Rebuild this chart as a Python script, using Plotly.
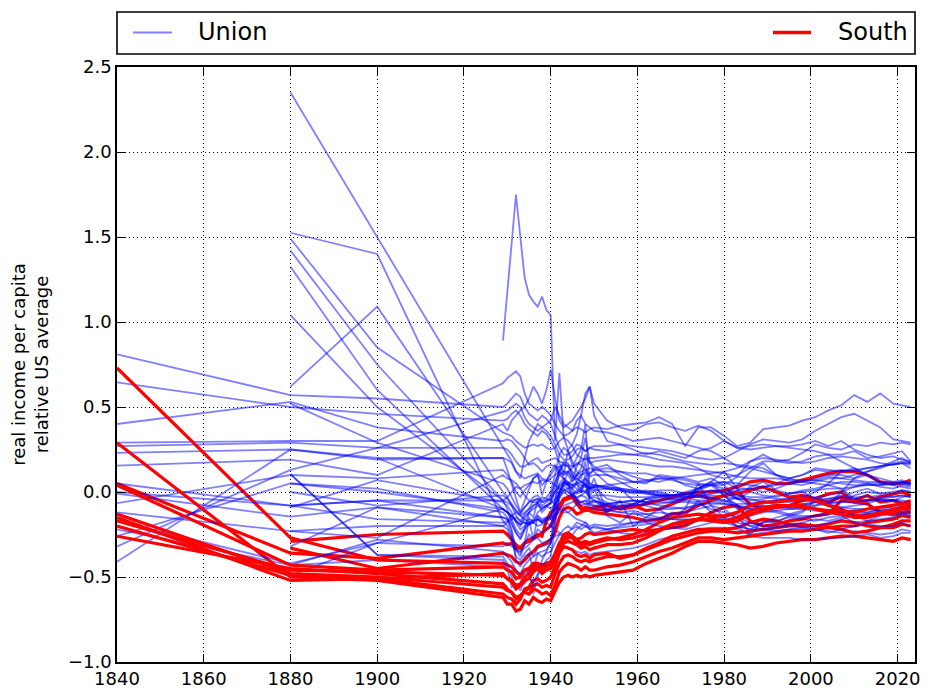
import plotly.graph_objects as go

# ---- x positions of the observations (benchmark years, then annual 1929-1950, then every 3 years) ----
YEARS = [1840, 1880, 1900] + list(range(1929, 1951)) + list(range(1953, 2020, 3)) + [2021, 2023]

X_TICKS = [1840, 1860, 1880, 1900, 1920, 1940, 1960, 1980, 2000, 2020]
Y_TICKS = [-1.0, -0.5, 0.0, 0.5, 1.0, 1.5, 2.0, 2.5]

# ---- South (red) ----
south_01 = [0.05, -0.36, -0.39,
            -0.30, -0.31, -0.30, -0.33, -0.33, -0.30, -0.28, -0.27, -0.26, -0.24, -0.22, -0.20, -0.14, -0.09, -0.05, -0.04, -0.03, -0.07, -0.10, -0.09, -0.10, -0.09,
            -0.08, -0.10, -0.09, -0.07, -0.05, -0.03, -0.01, 0.00, 0.00, 0.01, 0.03, 0.06, 0.07, 0.05, 0.05, 0.07, 0.09, 0.11, 0.12, 0.12, 0.10, 0.06, 0.05,
            0.05, 0.07]
south_02 = [None, -0.29, -0.25,
            -0.23, -0.25, -0.28, -0.31, -0.33, -0.30, -0.29, -0.27, -0.25, -0.26, -0.17, -0.12, -0.10, -0.08, -0.04, -0.03, -0.02, -0.05, -0.09, -0.11, -0.10, -0.10,
            -0.11, -0.09, -0.08, -0.11, -0.10, -0.07, -0.04, -0.02, -0.04, -0.02, -0.01, 0.01, 0.03, 0.00, -0.03, -0.02, -0.04, -0.01, 0.00, -0.06, -0.05, -0.03, -0.01,
            0.00, -0.02]
south_03 = [None, -0.33, -0.45,
            -0.36, -0.37, -0.38, -0.41, -0.42, -0.40, -0.37, -0.35, -0.32, -0.31, -0.30, -0.28, -0.24, -0.15, -0.10, -0.09, -0.10, -0.13, -0.12, -0.10, -0.11, -0.12,
            -0.13, -0.14, -0.15, -0.17, -0.16, -0.13, -0.12, -0.08, -0.05, -0.02, 0.00, -0.07, -0.10, -0.09, -0.08, -0.05, -0.04, -0.06, -0.03, -0.05, -0.02, -0.06, -0.05,
            -0.07, -0.05]
south_04 = [0.73, -0.27, -0.40,
            -0.42, -0.43, -0.44, -0.47, -0.49, -0.46, -0.45, -0.43, -0.42, -0.43, -0.42, -0.41, -0.37, -0.32, -0.28, -0.27, -0.26, -0.28, -0.27, -0.25, -0.24, -0.25,
            -0.24, -0.23, -0.22, -0.23, -0.22, -0.21, -0.20, -0.16, -0.12, -0.09, -0.08, -0.17, -0.20, -0.19, -0.17, -0.16, -0.14, -0.13, -0.05, -0.06, -0.07, -0.12, -0.13,
            -0.12, -0.12]
south_05 = [0.29, -0.50, -0.52,
            -0.62, -0.66, -0.66, -0.70, -0.69, -0.64, -0.66, -0.62, -0.64, -0.65, -0.63, -0.64, -0.58, -0.53, -0.50, -0.49, -0.50, -0.49, -0.50, -0.49, -0.50, -0.49,
            -0.48, -0.47, -0.46, -0.42, -0.39, -0.36, -0.32, -0.29, -0.29, -0.30, -0.31, -0.33, -0.32, -0.30, -0.29, -0.28, -0.28, -0.27, -0.26, -0.26, -0.27, -0.28, -0.29,
            -0.27, -0.28]
south_06 = [-0.13, -0.48, -0.50,
            -0.56, -0.58, -0.59, -0.62, -0.61, -0.58, -0.57, -0.55, -0.54, -0.56, -0.55, -0.56, -0.48, -0.42, -0.38, -0.37, -0.38, -0.40, -0.41, -0.40, -0.41, -0.40,
            -0.38, -0.38, -0.37, -0.34, -0.31, -0.28, -0.26, -0.24, -0.23, -0.23, -0.24, -0.23, -0.22, -0.21, -0.20, -0.20, -0.20, -0.19, -0.17, -0.18, -0.20, -0.21, -0.21,
            -0.19, -0.20]
south_07 = [-0.15, -0.52, -0.51,
            -0.60, -0.62, -0.63, -0.66, -0.63, -0.57, -0.56, -0.52, -0.51, -0.53, -0.52, -0.50, -0.44, -0.36, -0.32, -0.33, -0.34, -0.37, -0.38, -0.37, -0.39, -0.37,
            -0.36, -0.39, -0.37, -0.33, -0.30, -0.26, -0.24, -0.22, -0.22, -0.22, -0.21, -0.18, -0.16, -0.17, -0.19, -0.19, -0.20, -0.21, -0.22, -0.24, -0.23, -0.21, -0.19,
            -0.17, -0.17]
south_08 = [-0.26, -0.45, -0.48,
            -0.54, -0.57, -0.59, -0.63, -0.61, -0.59, -0.60, -0.57, -0.58, -0.60, -0.59, -0.61, -0.55, -0.47, -0.44, -0.42, -0.43, -0.44, -0.46, -0.44, -0.46, -0.46,
            -0.44, -0.43, -0.41, -0.38, -0.35, -0.33, -0.30, -0.27, -0.27, -0.28, -0.27, -0.26, -0.25, -0.24, -0.23, -0.23, -0.22, -0.21, -0.20, -0.20, -0.18, -0.17, -0.16,
            -0.14, -0.15]
south_09 = [-0.17, -0.46, -0.47,
            -0.49, -0.51, -0.52, -0.55, -0.54, -0.50, -0.48, -0.45, -0.44, -0.46, -0.44, -0.43, -0.37, -0.30, -0.27, -0.26, -0.27, -0.30, -0.31, -0.30, -0.31, -0.30,
            -0.28, -0.27, -0.25, -0.22, -0.18, -0.15, -0.14, -0.13, -0.14, -0.14, -0.12, -0.08, -0.06, -0.06, -0.05, -0.04, -0.05, -0.08, -0.10, -0.14, -0.14, -0.12, -0.10,
            -0.09, -0.09]
south_10 = [-0.20, -0.49, -0.51,
            -0.48, -0.51, -0.53, -0.57, -0.55, -0.52, -0.51, -0.47, -0.45, -0.48, -0.46, -0.45, -0.40, -0.34, -0.30, -0.29, -0.30, -0.31, -0.33, -0.32, -0.34, -0.33,
            -0.31, -0.31, -0.30, -0.27, -0.23, -0.19, -0.17, -0.16, -0.16, -0.17, -0.15, -0.11, -0.09, -0.08, -0.08, -0.08, -0.10, -0.12, -0.13, -0.15, -0.15, -0.13, -0.12,
            -0.10, -0.10]
south_11 = [0.04, -0.43, -0.46,
            -0.44, -0.46, -0.47, -0.51, -0.50, -0.46, -0.45, -0.42, -0.42, -0.45, -0.43, -0.42, -0.36, -0.30, -0.25, -0.24, -0.26, -0.28, -0.30, -0.29, -0.30, -0.29,
            -0.27, -0.28, -0.27, -0.25, -0.22, -0.19, -0.18, -0.16, -0.17, -0.18, -0.17, -0.13, -0.11, -0.09, -0.08, -0.09, -0.10, -0.11, -0.11, -0.12, -0.10, -0.09, -0.08,
            -0.07, -0.07]

# ---- Union (blue) ----
union_01 = [0.81, 0.57, 0.55,
            0.50, 0.52, 0.55, 0.58, 0.56, 0.50, 0.46, 0.44, 0.42, 0.45, 0.43, 0.40, 0.33, 0.26, 0.22, 0.22, 0.24, 0.28, 0.27, 0.24, 0.26, 0.25,
            0.24, 0.23, 0.22, 0.21, 0.19, 0.18, 0.17, 0.14, 0.10, 0.08, 0.10, 0.14, 0.18, 0.18, 0.17, 0.18, 0.21, 0.22, 0.22, 0.24, 0.20, 0.21, 0.23,
            0.24, 0.18]
union_02 = [0.645, 0.50, 0.46,
            0.42, 0.43, 0.46, 0.48, 0.45, 0.40, 0.37, 0.35, 0.33, 0.36, 0.34, 0.30, 0.25, 0.17, 0.12, 0.12, 0.14, 0.17, 0.16, 0.13, 0.14, 0.13,
            0.12, 0.12, 0.11, 0.11, 0.09, 0.08, 0.07, 0.05, 0.04, 0.04, 0.09, 0.18, 0.22, 0.18, 0.19, 0.23, 0.28, 0.26, 0.25, 0.28, 0.27, 0.29, 0.28,
            0.29, 0.28]
union_03 = [0.40, 0.53, 0.38,
            0.30, 0.31, 0.30, 0.27, 0.24, 0.20, 0.16, 0.17, 0.15, 0.12, 0.15, 0.16, 0.15, 0.10, 0.08, 0.05, 0.07, 0.08, 0.06, 0.04, 0.02, 0.04,
            0.03, 0.02, 0.01, 0.00, -0.01, -0.02, -0.03, -0.05, -0.05, -0.06, -0.03, 0.03, 0.06, 0.01, -0.01, 0.01, 0.02, 0.04, 0.06, 0.06, 0.05, 0.05, 0.06,
            0.05, 0.04]
union_04 = [0.29, 0.30, 0.30,
            0.64, 0.67, 0.69, 0.71, 0.68, 0.58, 0.52, 0.50, 0.48, 0.50, 0.48, 0.45, 0.40, 0.36, 0.33, 0.34, 0.36, 0.38, 0.37, 0.35, 0.37, 0.38,
            0.37, 0.39, 0.40, 0.41, 0.44, 0.40, 0.27, 0.38, 0.38, 0.33, 0.27, 0.29, 0.37, 0.38, 0.39, 0.42, 0.44, 0.48, 0.51, 0.57, 0.53, 0.58, 0.52,
            0.51, 0.50]
union_05 = [0.27, 0.29, 0.26,
            0.47, 0.48, 0.50, 0.52, 0.50, 0.44, 0.40, 0.38, 0.36, 0.38, 0.36, 0.33, 0.28, 0.22, 0.19, 0.19, 0.21, 0.25, 0.26, 0.24, 0.26, 0.27,
            0.27, 0.28, 0.27, 0.26, 0.25, 0.24, 0.22, 0.20, 0.19, 0.20, 0.24, 0.28, 0.31, 0.30, 0.29, 0.31, 0.36, 0.40, 0.44, 0.46, 0.42, 0.38, 0.31,
            0.30, 0.29]
union_06 = [0.23, 0.25, 0.19,
            0.20, 0.19, 0.17, 0.12, 0.10, 0.08, 0.09, 0.10, 0.11, 0.08, 0.07, 0.06, 0.04, 0.02, 0.01, 0.02, 0.03, 0.05, 0.06, 0.05, 0.03, 0.04,
            0.03, 0.02, 0.01, -0.01, -0.02, -0.02, -0.01, -0.01, -0.02, -0.03, -0.04, -0.05, -0.04, -0.02, -0.01, 0.00, 0.01, 0.02, 0.02, 0.03, 0.04, 0.04, 0.05,
            0.05, 0.04]
union_07 = [0.155, 0.19, 0.10,
            0.40, 0.36, 0.42, 0.45, 0.48, 0.50, 0.55, 0.62, 0.58, 0.52, 0.60, 0.72, 0.55, 0.42, 0.38, 0.40, 0.42, 0.46, 0.50, 0.55, 0.62, 0.52,
            0.42, 0.38, 0.36, 0.40, 0.41, 0.38, 0.36, 0.39, 0.36, 0.30, 0.26, 0.27, 0.28, 0.27, 0.26, 0.25, 0.24, 0.22, 0.18, 0.14, 0.10, 0.06, 0.04,
            0.03, 0.02]
union_08 = [0.05, -0.08, -0.05,
            -0.05, -0.03, 0.00, 0.03, 0.02, -0.02, -0.05, -0.06, -0.06, -0.03, -0.04, -0.05, -0.07, -0.10, -0.12, -0.12, -0.10, -0.07, -0.06, -0.07, -0.07, -0.06,
            -0.07, -0.06, -0.05, -0.06, -0.05, -0.04, -0.05, -0.06, -0.05, -0.02, 0.04, 0.12, 0.17, 0.10, 0.08, 0.10, 0.13, 0.12, 0.13, 0.12, 0.14, 0.15, 0.16,
            0.17, 0.16]
union_09 = [-0.01, -0.145, -0.09,
            -0.20, -0.18, -0.16, -0.15, -0.17, -0.18, -0.19, -0.18, -0.20, -0.19, -0.18, -0.20, -0.22, -0.24, -0.25, -0.24, -0.21, -0.18, -0.19, -0.20, -0.21, -0.21,
            -0.22, -0.21, -0.20, -0.19, -0.17, -0.15, -0.14, -0.13, -0.15, -0.15, -0.12, -0.07, -0.05, -0.08, -0.09, -0.08, -0.06, -0.04, -0.02, -0.03, -0.03, -0.02, -0.03,
            -0.02, -0.03]
union_10 = [-0.065, 0.10, 0.08,
            0.13, 0.10, 0.06, 0.00, -0.03, 0.01, 0.04, 0.08, 0.10, 0.04, 0.07, 0.10, 0.14, 0.15, 0.16, 0.15, 0.12, 0.10, 0.12, 0.13, 0.11, 0.13,
            0.14, 0.12, 0.09, 0.07, 0.08, 0.07, 0.05, 0.04, 0.04, 0.02, -0.02, -0.03, -0.03, -0.04, -0.04, -0.04, -0.06, -0.07, -0.09, -0.10, -0.10, -0.09, -0.09,
            -0.09, -0.08]
union_11 = [-0.12, -0.23, -0.27,
            0.10, 0.08, 0.07, 0.05, 0.02, 0.04, 0.05, 0.06, 0.05, 0.07, 0.06, 0.08, 0.10, 0.12, 0.08, 0.06, 0.04, 0.02, 0.01, 0.00, 0.02, 0.03,
            0.04, 0.05, 0.06, 0.06, 0.08, 0.08, 0.09, 0.10, 0.11, 0.12, 0.14, 0.18, 0.20, 0.19, 0.18, 0.17, 0.18, 0.20, 0.21, 0.20, 0.19, 0.17, 0.16,
            0.17, 0.14]
union_12 = [-0.22, -0.43, -0.40,
            -0.44, -0.46, -0.47, -0.50, -0.51, -0.48, -0.46, -0.43, -0.44, -0.45, -0.43, -0.42, -0.38, -0.35, -0.33, -0.33, -0.34, -0.35, -0.36, -0.35, -0.37, -0.36,
            -0.35, -0.34, -0.33, -0.31, -0.28, -0.26, -0.24, -0.22, -0.21, -0.21, -0.22, -0.25, -0.24, -0.23, -0.22, -0.22, -0.22, -0.23, -0.24, -0.23, -0.24, -0.25, -0.24,
            -0.22, -0.23]
union_13 = [-0.26, 0.05, 0.00,
            -0.10, -0.12, -0.14, -0.17, -0.19, -0.14, -0.12, -0.08, -0.06, -0.12, -0.09, -0.06, 0.00, 0.03, 0.05, 0.04, 0.02, -0.01, 0.00, 0.01, -0.02, 0.01,
            0.02, 0.01, -0.01, 0.00, 0.01, 0.01, -0.01, -0.02, -0.03, -0.05, -0.09, -0.10, -0.10, -0.11, -0.10, -0.09, -0.10, -0.11, -0.13, -0.14, -0.13, -0.12, -0.12,
            -0.12, -0.13]
union_14 = [-0.32, 0.13, 0.26,
            0.26, 0.25, 0.22, 0.18, 0.15, 0.15, 0.17, 0.19, 0.20, 0.17, 0.18, 0.19, 0.20, 0.18, 0.17, 0.16, 0.15, 0.16, 0.18, 0.20, 0.17, 0.18,
            0.19, 0.18, 0.17, 0.16, 0.15, 0.15, 0.14, 0.13, 0.12, 0.11, 0.09, 0.08, 0.08, 0.08, 0.07, 0.07, 0.07, 0.06, 0.05, 0.04, 0.04, 0.04, 0.05,
            0.06, 0.05]
union_15 = [-0.41, 0.25, 0.20,
            0.20, 0.13, 0.05, -0.04, -0.12, -0.05, 0.02, 0.08, 0.10, -0.02, 0.06, 0.12, 0.16, 0.12, 0.18, 0.17, 0.10, 0.06, 0.10, 0.12, 0.10, 0.14,
            0.16, 0.10, 0.06, 0.05, 0.10, 0.09, 0.08, 0.06, 0.08, 0.04, -0.04, 0.00, -0.02, -0.03, -0.01, 0.00, -0.04, -0.08, -0.12, -0.11, -0.10, -0.11, -0.10,
            -0.10, -0.11]
union_16 = [0.00, -0.08, -0.16,
            -0.18, -0.17, -0.14, -0.12, -0.14, -0.16, -0.18, -0.17, -0.16, -0.18, -0.17, -0.16, -0.14, -0.12, -0.10, -0.12, -0.14, -0.16, -0.17, -0.18, -0.20, -0.19,
            -0.20, -0.19, -0.18, -0.17, -0.16, -0.16, -0.17, -0.16, -0.17, -0.18, -0.17, -0.14, -0.12, -0.11, -0.13, -0.14, -0.14, -0.13, -0.12, -0.11, -0.12, -0.11, -0.10,
            -0.08, -0.08]
union_17 = [-0.17, -0.42, -0.30,
            -0.10, -0.12, -0.14, -0.17, -0.19, -0.18, -0.19, -0.17, -0.16, -0.17, -0.16, -0.15, -0.13, -0.10, -0.08, -0.07, -0.06, -0.05, -0.06, -0.05, -0.07, -0.08,
            -0.07, -0.08, -0.08, -0.07, -0.07, -0.06, -0.06, -0.07, -0.07, -0.07, -0.08, -0.09, -0.08, -0.09, -0.10, -0.10, -0.11, -0.12, -0.12, -0.13, -0.13, -0.13, -0.14,
            -0.13, -0.14]
union_18 = [None, -0.49, -0.30,
            -0.32, -0.30, -0.32, -0.34, -0.35, -0.33, -0.31, -0.28, -0.27, -0.30, -0.29, -0.28, -0.26, -0.25, -0.26, -0.26, -0.25, -0.22, -0.20, -0.18, -0.22, -0.20,
            -0.22, -0.24, -0.25, -0.24, -0.22, -0.21, -0.19, -0.17, -0.15, -0.16, -0.20, -0.26, -0.27, -0.27, -0.27, -0.28, -0.28, -0.27, -0.27, -0.26, -0.25, -0.27, -0.26,
            -0.24, -0.24]
union_19 = [None, 0.00, -0.08,
            -0.02, -0.04, -0.07, -0.11, -0.14, -0.12, -0.10, -0.08, -0.07, -0.09, -0.08, -0.07, -0.04, -0.01, 0.01, 0.00, -0.02, -0.03, -0.02, 0.00, -0.03, -0.02,
            -0.02, -0.03, -0.03, -0.03, -0.02, -0.02, -0.03, -0.03, -0.04, -0.05, -0.07, -0.07, -0.06, -0.06, -0.05, -0.05, -0.05, -0.06, -0.06, -0.06, -0.05, -0.05, -0.05,
            -0.05, -0.06]
union_20 = [None, -0.09, 0.07,
            -0.06, -0.08, -0.12, -0.18, -0.22, -0.20, -0.15, -0.18, -0.12, -0.10, -0.08, -0.10, -0.07, -0.03, 0.00, -0.02, -0.03, -0.04, -0.02, -0.03, -0.06, -0.05,
            -0.07, -0.06, -0.05, -0.06, -0.03, -0.02, -0.01, 0.00, 0.01, 0.00, 0.01, 0.02, 0.03, 0.04, 0.05, 0.06, 0.07, 0.09, 0.08, 0.07, 0.06, 0.06, 0.05,
            0.06, 0.05]
union_21 = [None, 0.05, 0.02,
            -0.12, -0.15, -0.22, -0.34, -0.38, -0.30, -0.16, -0.28, -0.14, -0.18, -0.15, -0.15, -0.05, 0.05, 0.08, 0.05, 0.04, 0.05, 0.02, 0.10, 0.01, 0.03,
            -0.04, -0.06, -0.07, -0.04, -0.02, -0.03, -0.04, 0.02, 0.06, -0.02, -0.10, -0.14, -0.10, -0.08, -0.09, -0.07, -0.08, -0.05, -0.03, 0.00, 0.02, -0.01, -0.01,
            0.01, 0.00]
union_22 = [None, -0.23, -0.20,
            -0.20, -0.22, -0.28, -0.38, -0.40, -0.36, -0.33, -0.38, -0.33, -0.32, -0.31, -0.30, -0.18, -0.04, 0.02, 0.00, -0.02, 0.01, 0.00, 0.05, -0.06, -0.05,
            -0.08, -0.10, -0.07, -0.04, -0.06, -0.06, -0.03, -0.02, 0.01, 0.00, -0.04, -0.04, -0.06, -0.05, -0.06, -0.05, -0.04, -0.04, -0.03, -0.04, -0.02, -0.05, -0.05,
            -0.03, -0.02]
union_23 = [None, -0.32, -0.09,
            -0.15, -0.16, -0.24, -0.40, -0.44, -0.38, -0.36, -0.46, -0.36, -0.35, -0.34, -0.30, -0.15, 0.00, 0.06, 0.04, 0.02, 0.05, 0.00, 0.08, -0.04, -0.03,
            -0.06, -0.10, -0.08, -0.04, -0.03, -0.05, -0.04, 0.01, 0.04, -0.02, -0.08, -0.12, -0.07, -0.05, -0.05, -0.04, -0.03, -0.02, 0.00, 0.03, 0.05, 0.03, 0.02,
            0.04, 0.03]
union_24 = [None, 0.105, -0.37,
            -0.40, -0.45, -0.56, -0.54, -0.58, -0.52, -0.45, -0.60, -0.50, -0.40, -0.35, -0.30, -0.05, 0.15, 0.10, 0.25, 0.15, 0.20, 0.25, 0.40, 0.02, 0.08,
            -0.12, -0.05, -0.20, -0.15, -0.10, -0.16, -0.10, 0.05, -0.08, -0.15, -0.13, -0.25, -0.17, -0.18, -0.14, -0.12, -0.05, -0.08, 0.00, 0.08, 0.10, 0.05, 0.04,
            0.06, 0.05]
union_25 = [None, 0.105, -0.37,
            -0.38, -0.42, -0.50, -0.57, -0.55, -0.54, -0.50, -0.54, -0.48, -0.45, -0.40, -0.38, -0.20, -0.02, 0.05, 0.12, 0.08, 0.10, 0.08, 0.18, 0.00, 0.02,
            -0.14, -0.18, -0.12, -0.15, -0.16, -0.12, -0.14, -0.05, -0.12, -0.15, -0.20, -0.22, -0.18, -0.15, -0.13, -0.11, -0.08, -0.07, -0.06, -0.02, 0.00, -0.01, 0.00,
            0.01, 0.00]
union_26 = [None, 1.04, 0.50,
            -0.05, -0.10, -0.18, -0.24, -0.28, -0.22, -0.12, -0.15, -0.05, -0.08, -0.06, -0.04, 0.06, 0.12, 0.10, 0.12, 0.08, 0.15, 0.20, 0.32, 0.18, 0.12,
            0.05, 0.02, -0.05, -0.06, -0.08, -0.09, -0.10, -0.07, -0.10, -0.12, -0.15, -0.18, -0.20, -0.20, -0.19, -0.21, -0.20, -0.18, -0.16, -0.14, -0.13, -0.12, -0.10,
            -0.09, -0.09]
union_27 = [None, 1.325, 0.60,
            -0.10, -0.12, -0.14, -0.17, -0.20, -0.16, -0.12, -0.10, -0.08, -0.10, -0.08, -0.06, 0.02, 0.10, 0.12, 0.10, 0.06, 0.10, 0.14, 0.22, 0.18, 0.15,
            0.10, 0.06, 0.02, 0.00, -0.02, -0.04, -0.02, 0.02, 0.06, 0.12, 0.02, -0.08, -0.06, -0.05, -0.04, -0.03, 0.00, 0.05, 0.12, 0.14, 0.10, 0.08, 0.06,
            0.07, 0.05]
union_28 = [None, 1.42, 0.75,
            -0.05, -0.06, -0.08, -0.11, -0.13, -0.09, -0.06, -0.05, -0.04, -0.06, -0.05, -0.04, 0.00, 0.04, 0.06, 0.05, 0.04, 0.06, 0.04, 0.03, 0.02, 0.03,
            0.02, 0.01, 0.00, -0.01, -0.02, -0.02, 0.00, 0.02, 0.04, 0.06, 0.05, 0.04, 0.03, 0.05, 0.08, 0.10, 0.14, 0.13, 0.12, 0.13, 0.14, 0.15, 0.16,
            0.17, 0.17]
union_29 = [None, 2.35, 1.50,
            0.26, 0.22, 0.18, 0.12, 0.08, 0.20, 0.30, 0.35, 0.40, 0.38, 0.40, 0.42, 0.50, 0.45, 0.40, 0.38, 0.36, 0.42, 0.45, 0.40, 0.38, 0.36,
            0.35, 0.33, 0.30, 0.31, 0.32, 0.30, 0.28, 0.26, 0.24, 0.20, 0.15, 0.14, 0.12, 0.10, 0.08, 0.06, 0.05, 0.04, 0.02, -0.04, -0.05, -0.04, -0.05,
            -0.06, -0.07]
union_30 = [None, 1.525, 1.40,
            -0.17, -0.20, -0.26, -0.34, -0.36, -0.30, -0.25, -0.28, -0.22, -0.24, -0.22, -0.20, -0.10, 0.00, 0.04, 0.02, -0.02, 0.00, 0.02, 0.05, -0.03, -0.05,
            -0.10, -0.12, -0.11, -0.13, -0.12, -0.13, -0.12, -0.10, -0.08, -0.10, -0.16, -0.20, -0.18, -0.17, -0.15, -0.16, -0.17, -0.15, -0.14, -0.18, -0.17, -0.14, -0.12,
            -0.10, -0.12]
union_31 = [None, 1.49, 0.85,
            0.35, 0.34, 0.33, 0.30, 0.28, 0.26, 0.27, 0.28, 0.27, 0.28, 0.26, 0.25, 0.26, 0.30, 0.32, 0.30, 0.27, 0.22, 0.20, 0.19, 0.20, 0.20,
            0.21, 0.22, 0.22, 0.23, 0.22, 0.20, 0.18, 0.17, 0.16, 0.17, 0.16, 0.15, 0.14, 0.10, 0.06, 0.06, 0.08, 0.10, 0.10, 0.08, 0.12, 0.15, 0.18,
            0.20, 0.17]
union_32 = [None, 0.62, 1.09,
            0.00, -0.03, -0.08, -0.14, -0.17, -0.13, -0.10, -0.05, -0.04, -0.06, -0.05, -0.02, 0.05, 0.12, 0.16, 0.15, 0.10, 0.08, 0.06, 0.08, 0.05, 0.04,
            0.02, 0.01, 0.00, 0.01, 0.00, -0.02, -0.02, -0.03, -0.01, 0.00, -0.04, -0.08, -0.10, -0.09, -0.08, -0.07, -0.06, -0.08, -0.09, -0.08, -0.07, -0.04, -0.03,
            -0.02, -0.03]
union_33 = [None, 0.52, 0.29,
            0.05, 0.02, -0.03, -0.08, -0.12, -0.09, -0.06, -0.03, -0.02, -0.05, -0.03, 0.00, 0.10, 0.22, 0.26, 0.24, 0.18, 0.12, 0.10, 0.11, 0.09, 0.10,
            0.10, 0.08, 0.06, 0.07, 0.06, 0.08, 0.04, 0.02, 0.05, 0.06, 0.02, 0.02, 0.00, 0.02, 0.05, 0.04, 0.06, 0.08, 0.08, 0.10, 0.12, 0.14, 0.17,
            0.18, 0.17]
union_34 = [None, -0.08, -0.05,
            -0.15, -0.16, -0.19, -0.24, -0.27, -0.22, -0.19, -0.18, -0.16, -0.18, -0.16, -0.15, -0.08, 0.00, 0.06, 0.04, -0.02, -0.06, -0.08, -0.07, -0.09, -0.10,
            -0.11, -0.12, -0.13, -0.13, -0.15, -0.16, -0.16, -0.17, -0.16, -0.18, -0.20, -0.22, -0.22, -0.21, -0.20, -0.18, -0.16, -0.17, -0.15, -0.12, -0.12, -0.10, -0.08,
            -0.07, -0.08]
union_35 = [None, None, 0.20,
            -0.10, -0.12, -0.16, -0.22, -0.25, -0.21, -0.18, -0.16, -0.14, -0.16, -0.15, -0.14, -0.08, 0.00, 0.04, 0.05, 0.00, -0.04, -0.06, -0.05, -0.08, -0.08,
            -0.10, -0.08, -0.07, -0.08, -0.10, -0.10, -0.09, -0.08, -0.06, -0.07, -0.08, -0.10, -0.11, -0.12, -0.14, -0.15, -0.14, -0.12, -0.10, -0.14, -0.17, -0.16, -0.15,
            -0.13, -0.14]
union_36 = [None, -0.43, -0.28,
            -0.35, -0.38, -0.41, -0.46, -0.48, -0.43, -0.40, -0.38, -0.36, -0.38, -0.36, -0.35, -0.30, -0.25, -0.22, -0.20, -0.22, -0.20, -0.22, -0.20, -0.22, -0.24,
            -0.22, -0.20, -0.18, -0.18, -0.20, -0.21, -0.22, -0.20, -0.18, -0.17, -0.18, -0.20, -0.22, -0.23, -0.22, -0.21, -0.22, -0.24, -0.22, -0.20, -0.19, -0.20, -0.20,
            -0.18, -0.20]
union_37 = [None, None, None,
            0.89, 1.17, 1.46, 1.75, 1.50, 1.26, 1.16, 1.12, 1.09, 1.15, 1.07, 1.04, 0.30, 0.70, 0.32, 0.25, 0.28, 0.34, 0.45, 0.58, 0.62, 0.45,
            0.30, 0.28, 0.25, 0.22, 0.24, 0.22, 0.20, 0.24, 0.26, 0.30, 0.26, 0.25, 0.26, 0.27, 0.27, 0.28, 0.30, 0.27, 0.30, 0.25, 0.22, 0.20, 0.21,
            0.19, 0.18]

SOUTH = [south_01, south_02, south_03, south_04, south_05, south_06,
         south_07, south_08, south_09, south_10, south_11]
UNION = [union_01, union_02, union_03, union_04, union_05, union_06, union_07, union_08,
         union_09, union_10, union_11, union_12, union_13, union_14, union_15, union_16,
         union_17, union_18, union_19, union_20, union_21, union_22, union_23, union_24,
         union_25, union_26, union_27, union_28, union_29, union_30, union_31, union_32,
         union_33, union_34, union_35, union_36, union_37]

BLUE = "rgba(0,0,255,0.5)"
RED = "rgb(255,0,0)"

for s in SOUTH + UNION:
    assert len(s) == len(YEARS), len(s)

# interleave drawing order (blue and red mixed, as in the original)
order = []
ui = 0
for si, s in enumerate(SOUTH):
    for _ in range(3 if si < 4 else 4):
        if ui < len(UNION):
            order.append(("u", UNION[ui]))
            ui += 1
    order.append(("s", s))
while ui < len(UNION):
    order.append(("u", UNION[ui]))
    ui += 1

fig = go.Figure()
for kind, vals in order:
    if kind == "u":
        line = dict(color=BLUE, width=1.8)
    else:
        line = dict(color=RED, width=3.2)
    fig.add_trace(go.Scatter(x=YEARS, y=vals, mode="lines", line=line,
                             showlegend=False, hoverinfo="skip"))

# figure is drawn 8px in from the page corner (default body margin)
W, H = 927, 692
L, T = 109, 59
PW, PH = 798, 595
R, B = W - L - PW, H - T - PH


def px_x(p):  # page pixel -> paper x
    return (p - 8 - L) / PW


def px_y(p):  # page pixel -> paper y
    return (T + PH - (p - 8)) / PH


leg_y = px_y(32.5)
shapes = [
    dict(type="rect", xref="paper", yref="paper", x0=0, x1=1, y0=px_y(54), y1=px_y(12),
         line=dict(color="black", width=1.6)),
    dict(type="line", xref="paper", yref="paper", x0=px_x(133), x1=px_x(172), y0=leg_y, y1=leg_y,
         line=dict(color=BLUE, width=2)),
    dict(type="line", xref="paper", yref="paper", x0=px_x(773), x1=px_x(811), y0=leg_y, y1=leg_y,
         line=dict(color=RED, width=3.5)),
]
annotations = [
    dict(text="Union", xref="paper", yref="paper", x=px_x(196), y=leg_y, xanchor="left",
         yanchor="middle", showarrow=False, font=dict(size=24, color="black")),
    dict(text="South", xref="paper", yref="paper", x=px_x(910), y=leg_y, xanchor="right",
         yanchor="middle", showarrow=False, font=dict(size=24, color="black")),
]

fig.update_layout(
    width=W, height=H,
    margin=dict(l=L, r=R, t=T, b=B, autoexpand=False),
    paper_bgcolor="white", plot_bgcolor="white",
    font=dict(family="DejaVu Sans", size=18, color="black"),
    showlegend=False,
    shapes=shapes, annotations=annotations,
)

axis_common = dict(
    ticks="inside", ticklen=8, tickwidth=1.3, tickcolor="black",
    showline=True, linecolor="black", linewidth=1.6, mirror="allticks",
    showgrid=True, gridcolor="black", griddash="1px,3px", gridwidth=1,
    zeroline=False, tickfont=dict(size=18, color="black"), automargin=False,
)
fig.update_xaxes(range=[1840, 2024], tickvals=X_TICKS, **axis_common)
fig.update_yaxes(range=[-1.0, 2.5], tickvals=Y_TICKS, tickformat=".1f",
                 title=dict(text="real income per capita<br>relative US average",
                            font=dict(size=18, color="black"), standoff=16),
                 **axis_common)

fig.write_html("out.html")
